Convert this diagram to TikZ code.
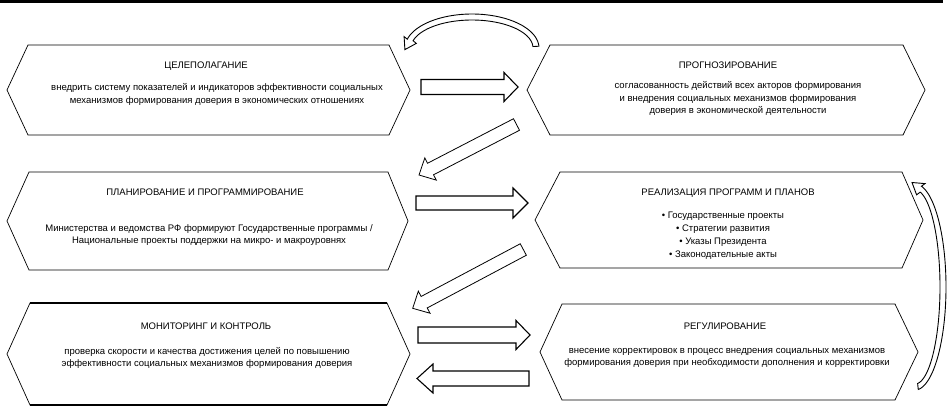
\documentclass[tikz,border=0pt]{standalone}
\usepackage{fontspec}
\setmainfont{Liberation Sans}
\usetikzlibrary{calc}
\newcommand\hexshape[7]{% name, left point x, left corner x, right corner x, right point x, top, bottom
  \draw[hexline] (#2,{(#6+#7)/2}) -- (#3,#6) -- (#4,#6) -- (#5,{(#6+#7)/2}) -- (#4,#7) -- (#3,#7) -- cycle;
  \coordinate (#1) at ({(#2+#5)/2},{(#6+#7)/2});
}
\newcommand\blockarr[6]{% tail, tip, shaft half, head half, head length, style
  \coordinate (tmpB) at ($(#2)!#5!(#1)$);
  \draw[#6] ($(#1)!#3!90:(#2)$) -- ($(tmpB)!#3!-90:(#1)$) -- ($(tmpB)!#4!-90:(#1)$) -- (#2)
     -- ($(tmpB)!#4!90:(#1)$) -- ($(tmpB)!#3!90:(#1)$) -- ($(#1)!#3!-90:(#2)$) -- cycle;
}
\begin{document}
\begin{tikzpicture}[x=1pt,y=-1pt,
  hexline/.style={draw=black,line width=0.7pt,line join=miter},
  boldedge/.style={draw=black,line width=1.8pt},
  titletext/.style={font=\fontsize{9.5}{12.5}\selectfont,inner sep=0pt},
  bodytext/.style={font=\fontsize{9.5}{12.5}\selectfont,align=center,inner sep=0pt},
  harrow/.style={draw=black,fill=white,line width=1.1pt,line join=miter},
  darrow/.style={draw=black,fill=white,line width=0.8pt,line join=miter},
  carrow/.style={draw=black,fill=white,line width=0.9pt,line join=miter}]
\useasboundingbox (0,0) rectangle (952,407);
\fill[black] (0,0) rectangle (943,2.5);

% hexagons
\hexshape{h1}{7}{28}{389}{410}{45}{135}
\hexshape{h2}{527}{550}{903}{925}{45}{135}
\hexshape{h3}{7}{29}{388}{408}{172}{270}
\hexshape{h4}{535}{560}{902}{923}{172}{268}
\hexshape{h5}{7}{30}{387}{410}{303}{405}
\hexshape{h6}{540}{562}{895}{918}{304}{400}
\draw[boldedge] (30,303) -- (387,303);
\draw[boldedge] (30,405) -- (387,405);

% texts
\node[titletext] (t1) at (206,66) {ЦЕЛЕПОЛАГАНИЕ};
\node[bodytext] (b1) at (217,94.5) {внедрить систему показателей и индикаторов эффективности социальных\\механизмов формирования доверия в экономических отношениях};

\node[titletext] (t2) at (728,65) {ПРОГНОЗИРОВАНИЕ};
\node[bodytext] (b2) at (738,98.5) {согласованность действий всех акторов формирования\\и внедрения социальных механизмов формирования\\доверия в экономической деятельности};

\node[titletext] (t3) at (205,192) {ПЛАНИРОВАНИЕ И ПРОГРАММИРОВАНИЕ};
\node[bodytext] (b3) at (209,235) {Министерства и ведомства РФ формируют Государственные программы /\\Национальные проекты поддержки на микро- и макроуровнях};

\node[titletext] (t4) at (728,193) {РЕАЛИЗАЦИЯ ПРОГРАММ И ПЛАНОВ};
\node[bodytext,font=\fontsize{9.5}{13}\selectfont] (b4) at (723,236) {• Государственные проекты\\• Стратегии развития\\• Указы Президента\\• Законодательные акты};

\node[titletext] (t5) at (206,326) {МОНИТОРИНГ И КОНТРОЛЬ};
\node[bodytext] (b5) at (207,358) {проверка скорости и качества достижения целей по повышению\\эффективности социальных механизмов формирования доверия};

\node[titletext] (t6) at (725,326) {РЕГУЛИРОВАНИЕ};
\node[bodytext] (b6) at (727,358) {внесение корректировок в процесс внедрения социальных механизмов\\формирования доверия при необходимости дополнения и корректировки};

% block arrows
\coordinate (a1s) at (421,87);      \coordinate (a1e) at (518,87);
\coordinate (a2s) at (516.5,124.5); \coordinate (a2e) at (419,175);
\coordinate (a3s) at (416,203);     \coordinate (a3e) at (528,203);
\coordinate (a4s) at (523.3,249.5); \coordinate (a4e) at (412.7,308.3);
\coordinate (a5s) at (418,335);     \coordinate (a5e) at (530,335);
\coordinate (a6s) at (529,378.5);   \coordinate (a6e) at (417,378.5);
\blockarr{a1s}{a1e}{7.5pt}{14.5pt}{14pt}{harrow}
\blockarr{a2s}{a2e}{6.5pt}{12.5pt}{13pt}{darrow}
\blockarr{a3s}{a3e}{7pt}{15pt}{15pt}{harrow}
\blockarr{a4s}{a4e}{6.5pt}{12.5pt}{13pt}{darrow}
\blockarr{a5s}{a5e}{8pt}{14.5pt}{14pt}{harrow}
\blockarr{a6s}{a6e}{7.5pt}{14.5pt}{16pt}{harrow}

% curved arrows
\draw[carrow] plot[domain=3:165,samples=60] ({472+67*cos(\x)},{48-34*sin(\x)})
  -- (404.1,36.6) -- (404.9,49.6) -- (416.3,43.4)
  -- plot[domain=165:3,samples=60] ({472+61*cos(\x)},{48-28*sin(\x)}) -- cycle;
\draw[carrow] plot[domain=-84:78,samples=80] ({915+31*cos(\x)},{287-103*sin(\x)})
  -- (925,183.6) -- (912,182.5) -- (916.6,194.8)
  -- plot[domain=78:-84,samples=80] ({915+25*cos(\x)},{287-97*sin(\x)}) -- cycle;
\end{tikzpicture}
\end{document}
